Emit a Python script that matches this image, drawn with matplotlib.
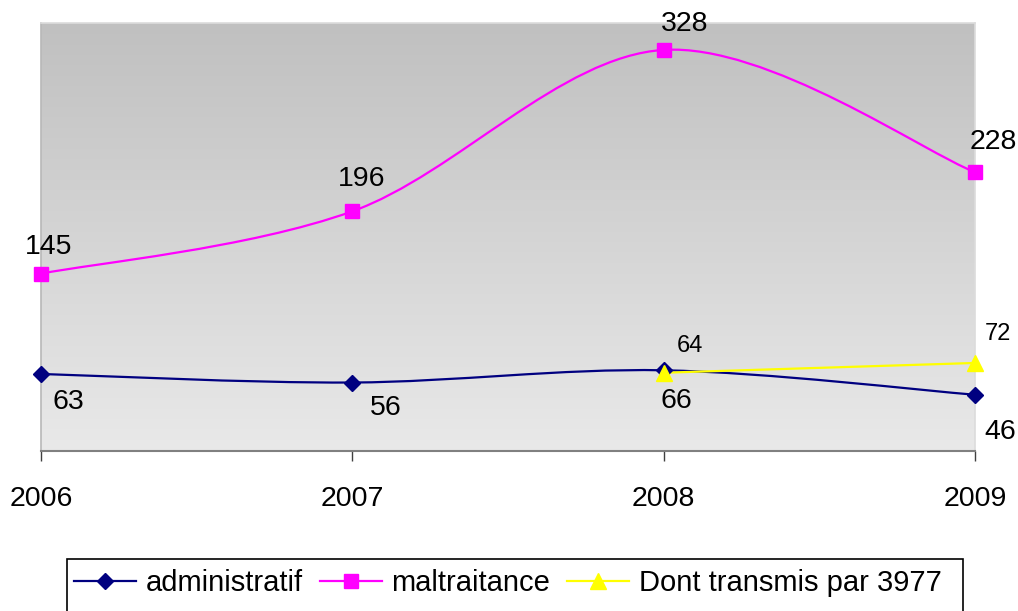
import numpy as np
import matplotlib
matplotlib.use("Agg")
import matplotlib.pyplot as plt
from matplotlib.path import Path
from matplotlib.patches import PathPatch, Rectangle
from matplotlib.lines import Line2D

plt.rcParams['font.family'] = ['Liberation Sans', 'DejaVu Sans']

years = ["2006", "2007", "2008", "2009"]
administratif = [63, 56, 66, 46]
maltraitance = [145, 196, 328, 228]
transmis_years = [2, 3]          # index of 2008, 2009
transmis = [64, 72]
series_names = ["administratif", "maltraitance", "Dont transmis par 3977"]

W, H = 1018, 611
fig = plt.figure(figsize=(W / 100, H / 100), dpi=100)
L, R, T, B = 41, 975, 23, 451
ax = fig.add_axes([L / W, 1 - B / H, (R - L) / W, (B - T) / H])

# gradient background (dark at top, light at bottom)
n = 256
g = np.linspace(192, 233, n) / 255.0
grad = np.dstack([g, g, g]).reshape(n, 1, 3)
ax.imshow(grad, extent=[0, 3, 0, 350], aspect='auto', zorder=0, origin='upper')
ax.set_xlim(0, 3)
ax.set_ylim(0, 350)


def smooth_path(xs, ys):
    pts = list(zip(xs, ys))
    m = len(pts)
    verts = [pts[0]]
    codes = [Path.MOVETO]
    for i in range(m - 1):
        p0 = np.array(pts[max(i - 1, 0)], float)
        p1 = np.array(pts[i], float)
        p2 = np.array(pts[i + 1], float)
        p3 = np.array(pts[min(i + 2, m - 1)], float)
        c1 = p1 + (p2 - p0) / 6.0
        c2 = p2 - (p3 - p1) / 6.0
        verts += [tuple(c1), tuple(c2), tuple(p2)]
        codes += [Path.CURVE4] * 3
    return Path(verts, codes)


xs = np.arange(len(years))
c_adm, c_mal, c_tr = '#000080', '#ff00ff', '#ffff00'
lw = 1.6

ax.add_patch(PathPatch(smooth_path(xs, administratif), facecolor='none',
                       edgecolor=c_adm, lw=lw, zorder=3, clip_on=False))
ax.add_patch(PathPatch(smooth_path(xs, maltraitance), facecolor='none',
                       edgecolor=c_mal, lw=lw, zorder=3, clip_on=False))
ax.add_patch(PathPatch(smooth_path(transmis_years, transmis), facecolor='none',
                       edgecolor=c_tr, lw=lw, zorder=3, clip_on=False))

ax.plot(xs, administratif, ls='none', marker='D', ms=8.5, color=c_adm, zorder=5, clip_on=False)
ax.plot(xs, maltraitance, ls='none', marker='s', ms=10, color=c_mal, zorder=5, clip_on=False)
ax.plot(transmis_years, transmis, ls='none', marker='^', ms=11, color=c_tr, zorder=6, clip_on=False)

big = 20.5
small = 17
# data labels (offsets in pixels)
mal_off = [(8, 27), (9, 32), (21, 26), (18, 30)]
adm_off = [(27, -28), (33, -25), (13, -31), (25, -37)]
tr_off = [(26, 27), (23, 29)]
for i, v in enumerate(maltraitance):
    ax.annotate(str(v), (xs[i], v), xytext=mal_off[i], textcoords='offset pixels',
                ha='center', va='center', fontsize=big, zorder=7, annotation_clip=False)
for i, v in enumerate(administratif):
    ax.annotate(str(v), (xs[i], v), xytext=adm_off[i], textcoords='offset pixels',
                ha='center', va='center', fontsize=big, zorder=7, annotation_clip=False)
for k, (i, v) in enumerate(zip(transmis_years, transmis)):
    ax.annotate(str(v), (i, v), xytext=tr_off[k], textcoords='offset pixels',
                ha='center', va='center', fontsize=small, zorder=7, annotation_clip=False)

# axes styling
ax.set_yticks([])
ax.set_xticks(xs)
ax.set_xticklabels(years, fontsize=big)
ax.tick_params(axis='x', direction='out', length=7, width=1, color='#404040', pad=18)
for s in ['top', 'right']:
    ax.spines[s].set_color('#dcdcdc')
    ax.spines[s].set_linewidth(1.2)
ax.spines['left'].set_color('#b8b8b8')
ax.spines['left'].set_linewidth(1.2)
ax.spines['bottom'].set_color('#808080')
ax.spines['bottom'].set_linewidth(1.5)

# legend box
fig.patches.append(Rectangle((67 / W, -0.05), (963 - 67) / W, (1 - 559 / H) + 0.05,
                             transform=fig.transFigure, facecolor='white',
                             edgecolor='black', lw=1.2, zorder=1))
handles = [Line2D([], [], color=c_adm, lw=lw, marker='D', ms=8.5),
           Line2D([], [], color=c_mal, lw=lw, marker='s', ms=10),
           Line2D([], [], color=c_tr, lw=lw, marker='^', ms=11)]
fig.legend(handles, series_names, loc='center left', bbox_to_anchor=(74 / W, 1 - 583 / H),
           ncol=3, frameon=False, fontsize=21, handlelength=2.12, handletextpad=0.34,
           columnspacing=0.58, borderaxespad=0, borderpad=0)

fig.savefig('out.png', dpi=100)
